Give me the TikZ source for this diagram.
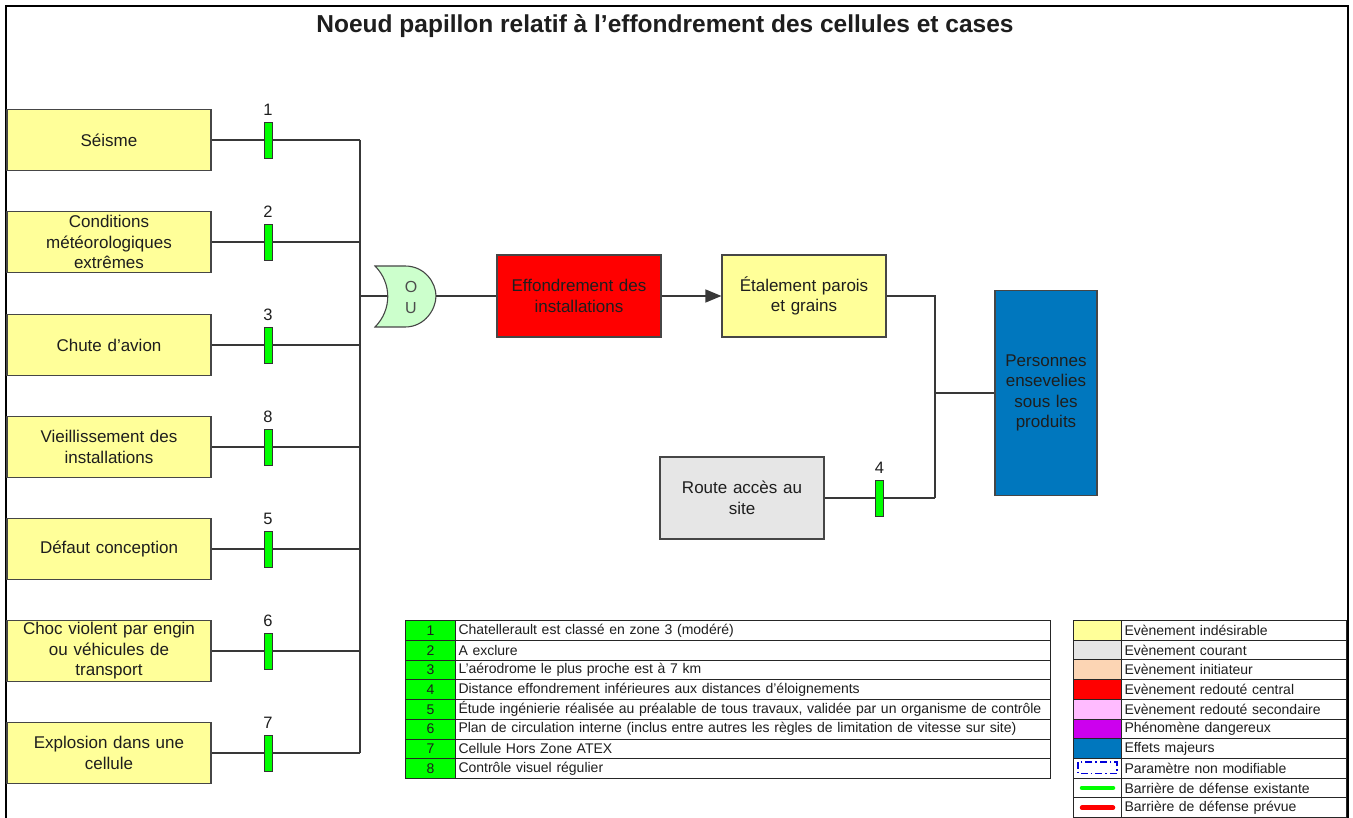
\documentclass[tikz,border=0pt]{standalone}
\usepackage{fontspec}
\setmainfont{Liberation Sans}
\usetikzlibrary{arrows.meta}
\definecolor{evyellow}{RGB}{255,255,153}
\definecolor{evgray}{RGB}{230,230,230}
\definecolor{evred}{RGB}{255,0,0}
\definecolor{evblue}{RGB}{0,119,190}
\definecolor{evpeach}{RGB}{252,213,180}
\definecolor{evpink}{RGB}{255,187,255}
\definecolor{evpurple}{RGB}{204,0,238}
\definecolor{bargreen}{RGB}{0,255,0}
\definecolor{barred}{RGB}{255,0,0}
\definecolor{gatefill}{RGB}{204,255,204}
\definecolor{edge}{RGB}{70,70,70}
\definecolor{ink}{RGB}{30,30,30}
\begin{document}
\begin{tikzpicture}[x=1pt,y=-1pt,
  box/.style={draw=edge, line width=1.2pt, align=center, inner sep=2pt, text=ink,
              font=\fontsize{17}{20.5}\selectfont},
  cause/.style={box, fill=evyellow, minimum width=204pt, minimum height=61pt, text width=198pt},
  event/.style={box, minimum width=164pt, minimum height=82pt, text width=158pt},
  wire/.style={draw=black!78, line width=1.5pt},
  barrier/.style={draw=black!80, fill=bargreen, line width=0.9pt, minimum width=8pt,
                  minimum height=36pt, inner sep=0pt},
  blabel/.style={font=\fontsize{16.5}{16.5}\selectfont, text=ink, inner sep=0pt, anchor=south},
  lcell/.style={draw=black!85, line width=1pt, inner sep=0pt, text=ink,
                font=\fontsize{14}{15}\selectfont, anchor=north west},
]
\useasboundingbox[fill=white] (0,0) rectangle (1353,818);

% page frame
\draw[line width=2pt] (6,818) -- (6,6) -- (1348,6) -- (1348,818);

% title
\node[font=\bfseries\fontsize{24.5}{24.5}\selectfont, text=ink] (title) at (665,26)
  {Noeud papillon relatif à l’effondrement des cellules et cases};

% undesirable events on the left, each with its defence barrier
\foreach \txt/\num/\yy [count=\k from 0] in {
  {Séisme}/1/140,
  {Conditions\\météorologiques\\extrêmes}/2/242,
  {Chute d’avion}/3/345,
  {Vieillissement des\\installations}/8/447,
  {Défaut conception}/5/549,
  {Choc violent par engin\\ou véhicules de\\transport}/6/651,
  {Explosion dans une\\cellule}/7/753} {
  \node[cause] (c\k) at (109,\yy) {\txt};
  \node[barrier] (b\k) at (268,\yy) {};
  \node[blabel] (l\k) at ([yshift=6pt]b\k.north) {\num};
  \coordinate (j\k) at (360,\yy);
  \draw[wire] (c\k.east) -- (b\k.west);
  \draw[wire] (b\k.east) -- (j\k);
}
\draw[wire] (j0) -- (j6);

% OR gate
\coordinate (gj) at (360,296);
\coordinate (gback) at (387,296);
\coordinate (gout) at (436,296);
\draw[wire] (gj) -- (gback);
\draw[draw=edge, line width=1.1pt, fill=gatefill]
  (375,266) -- (405,266) .. controls (425,266) and (436,283) .. (gout)
  .. controls (436,309) and (425,327) .. (405,327) -- (375,327)
  .. controls (392,310) and (392,283) .. (375,266) -- cycle;
\node[align=center, text=black!70, font=\fontsize{16}{21}\selectfont, inner sep=0pt]
  (gate) at (411,297) {O\\U};

% central event and its consequences
\node[event, fill=evred] (red) at (579,296) {Effondrement des\\installations};
\node[event, fill=evyellow] (spread) at (804,296) {Étalement parois\\et grains};
\node[event, fill=evgray] (road) at (742,498) {Route accès au\\site};
\node[box, fill=evblue, minimum width=102pt, minimum height=205pt, text width=96pt]
  (buried) at (1046,393) {Personnes\\ensevelies\\sous les\\produits};
\node[barrier] (b7) at (879.5,498) {};
\node[blabel] (l7) at ([yshift=6pt]b7.north) {4};

\coordinate (rtop) at (935,296);
\coordinate (rmid) at (935,393);
\coordinate (rbot) at (935,498);

\draw[wire] (gout) -- (red.west);
\draw[wire, -{Triangle[length=16pt,width=13pt]}] (red.east) -- (spread.west);
\draw[wire] (spread.east) -- (rtop) -- (rbot);
\draw[wire] (road.east) -- (b7.west);
\draw[wire] (b7.east) -- (rbot);
\draw[wire] (rmid) -- (buried.west);

% barrier table
\foreach \n/\txt [count=\k from 0] in {
  1/{Chatellerault est classé en zone 3 (modéré)},
  2/{A exclure},
  3/{L’aérodrome le plus proche est à 7 km},
  4/{Distance effondrement inférieures aux distances d’éloignements},
  5/{Étude ingénierie réalisée au préalable de tous travaux, validée par un organisme de contrôle},
  6/{Plan de circulation interne (inclus entre autres les règles de limitation de vitesse sur site)},
  7/{Cellule Hors Zone ATEX},
  8/{Contrôle visuel régulier}} {
  \pgfmathsetmacro\yy{620+19.75*\k}
  \node[lcell, fill=bargreen, minimum width=50pt, minimum height=19.75pt] (tn\k) at (405,\yy) {\n};
  \node[lcell, minimum width=595pt, minimum height=19.75pt, text width=589pt, inner xsep=3pt,
        align=left] (tt\k) at (455,\yy) {\txt};
}

% colour key
\foreach \col/\txt [count=\k from 0] in {
  evyellow/{Evènement indésirable},
  evgray/{Evènement courant},
  evpeach/{Evènement initiateur},
  evred/{Evènement redouté central},
  evpink/{Evènement redouté secondaire},
  evpurple/{Phénomène dangereux},
  evblue/{Effets majeurs},
  white/{Paramètre non modifiable},
  white/{Barrière de défense existante},
  white/{Barrière de défense prévue}} {
  \pgfmathsetmacro\yy{620+19.7*\k}
  \node[lcell, fill=\col, minimum width=48pt, minimum height=19.7pt] (ks\k) at (1073,\yy) {};
  \node[lcell, minimum width=225pt, minimum height=19.7pt, text width=219pt, inner xsep=3pt,
        align=left] (kt\k) at (1121,\yy) {\txt};
}
\draw[blue!85!black, line width=1.3pt, dash pattern=on 7pt off 3pt on 1.5pt off 3pt]
  ([xshift=5pt,yshift=-4pt]ks7.north west) rectangle ([xshift=-5pt,yshift=5pt]ks7.south east);
\draw[bargreen, line width=4.5pt, line cap=round]
  ([xshift=9pt]ks8.west) -- ([xshift=-9pt]ks8.east);
\draw[barred, line width=4.5pt, line cap=round]
  ([xshift=9pt]ks9.west) -- ([xshift=-9pt]ks9.east);
\end{tikzpicture}
\end{document}
